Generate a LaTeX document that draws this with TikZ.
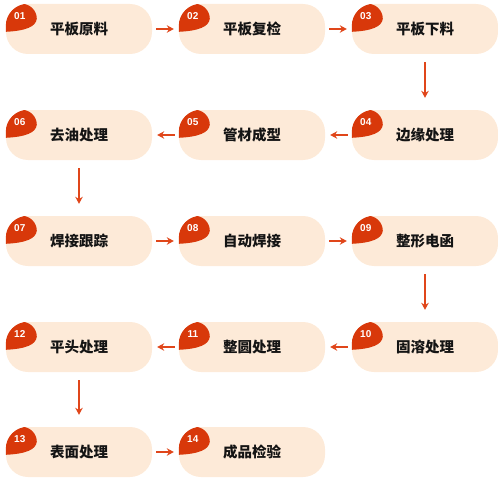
\documentclass[tikz,border=0pt]{standalone}
\usepackage{fontspec}
\setmainfont{Liberation Sans}
\newfontfamily\cjk{Noto Sans CJK SC}
\usetikzlibrary{arrows.meta,calc}
\definecolor{boxfill}{HTML}{FDEAD8}
\definecolor{badgered}{HTML}{D8380A}
\definecolor{arrred}{HTML}{E0461A}
\tikzset{
  stepbox/.style={rectangle, rounded corners=22pt, fill=boxfill, minimum width=146pt, minimum height=50pt, inner sep=0pt, font=\cjk\bfseries\fontsize{14.5}{15}\selectfont, text=black!92},
  arr/.style={draw=arrred, line width=1.3pt, -{Stealth[length=7pt,width=7.5pt]}},
  harr/.style={arr, shorten <=4pt, shorten >=5pt},
  varr/.style={arr, shorten <=8pt, shorten >=12pt},
  numtext/.style={text=white, font=\bfseries\fontsize{10}{11}\selectfont, inner sep=0pt}
}
\newcommand{\stepitem}[4]{%
  \node[stepbox] (#1) at (#2,#3) {#4};
  \begin{scope}
    \clip[rounded corners=22pt] (#1.south west) rectangle (#1.north east);
    \fill[badgered] ($(#1.north west)+(0,-28)$) -- ($(#1.north west)$) -- ($(#1.north west)+(16,0)$) arc[start angle=90, end angle=0, radius=15pt] .. controls ($(#1.north west)+(30,-23)$) and ($(#1.north west)+(20,-27)$) .. cycle;
  \end{scope}
}
\begin{document}
\begin{tikzpicture}[x=1pt,y=1pt]
\useasboundingbox (0,0) rectangle (498,-487);
\def\ca{79}\def\cb{252}\def\cc{425}
\def\ra{-29}\def\rb{-135}\def\rc{-241}\def\rd{-347}\def\re{-452}
\stepitem{b1}{\ca}{\ra}{平板原料}
\stepitem{b2}{\cb}{\ra}{平板复检}
\stepitem{b3}{\cc}{\ra}{平板下料}
\stepitem{b4}{\cc}{\rb}{边缘处理}
\stepitem{b5}{\cb}{\rb}{管材成型}
\stepitem{b6}{\ca}{\rb}{去油处理}
\stepitem{b7}{\ca}{\rc}{焊接跟踪}
\stepitem{b8}{\cb}{\rc}{自动焊接}
\stepitem{b9}{\cc}{\rc}{整形电函}
\stepitem{b10}{\cc}{\rd}{固溶处理}
\stepitem{b11}{\cb}{\rd}{整圆处理}
\stepitem{b12}{\ca}{\rd}{平头处理}
\stepitem{b13}{\ca}{\re}{表面处理}
\stepitem{b14}{\cb}{\re}{成品检验}
\foreach \i/\t in {1/01,2/02,3/03,4/04,5/05,6/06,7/07,8/08,9/09,10/10,11/11,12/12,13/13,14/14}{
  \node[numtext] (n\i) at ($(b\i.north west)+(14,-12)$) {\t};
}
\draw[harr] (b1.east) -- (b2.west);
\draw[harr] (b2.east) -- (b3.west);
\draw[varr] (b3.south) -- (b4.north);
\draw[harr] (b4.west) -- (b5.east);
\draw[harr] (b5.west) -- (b6.east);
\draw[varr] (b6.south) -- (b7.north);
\draw[harr] (b7.east) -- (b8.west);
\draw[harr] (b8.east) -- (b9.west);
\draw[varr] (b9.south) -- (b10.north);
\draw[harr] (b10.west) -- (b11.east);
\draw[harr] (b11.west) -- (b12.east);
\draw[varr] (b12.south) -- (b13.north);
\draw[harr] (b13.east) -- (b14.west);
\end{tikzpicture}
\end{document}
